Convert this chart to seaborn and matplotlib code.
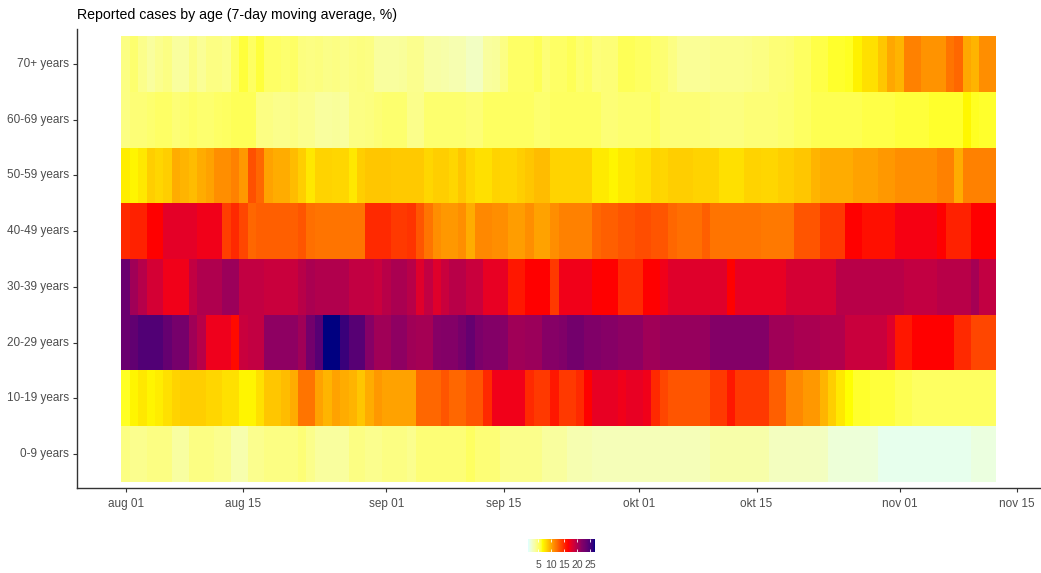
import numpy as np
import pandas as pd
import matplotlib
matplotlib.use("Agg")
import matplotlib.pyplot as plt
from matplotlib.colors import ListedColormap
import seaborn as sns

# ---- data: share of reported cases per age group, 7-day moving average (%) ----
start_date = "2020-08-01"
n_days = 104
age_groups = ["70+ years", "60-69 years", "50-59 years", "40-49 years",
              "30-39 years", "20-29 years", "10-19 years", "0-9 years"]

age_70 = [4.5, 5, 4.3, 3.8, 4.2, 4.5, 3.8, 3.8, 4.5, 4, 4.5, 4.5, 4.3, 5.3, 6, 5.3, 6, 5.2, 5.2, 5,
          5.2, 4.6, 4.5, 4.6, 4.4, 4.5, 4.3, 4.5, 4.6, 4.5, 3.8, 3.8, 3.8,
          3.9, 4.2, 4.2, 3.6, 3.6, 3.5, 3.3, 3.3, 2.8, 2.8, 3.8, 3.9, 4.5, 5.2, 5.2, 5.2, 5.5, 4.8,
          5.2, 5.2, 5.5, 5.0, 5.2, 4.7, 4.8, 4.8, 5.5, 5.5, 5.3, 5.3, 5.0, 4.9, 4.5,
          4.0, 4.0, 4.0, 4.0, 4.2, 4.2, 4.2, 4.2, 4.3, 4.5, 4.5, 4.8, 4.8, 4.9, 5.3, 5.3, 5.8, 5.8,
          6.2, 6.2, 6.3, 7.0, 7.8, 7.8, 8.8, 10, 9.5, 11.5, 11.5, 10.8, 10.8, 10.8, 12, 12.5, 10,
          9.5, 11, 11]
age_60 = [4.5, 4.8, 4.8, 5, 5.2, 5.2, 4.8, 5, 5.2, 5, 5, 5.2, 5.3, 5.5, 5.5, 5.5, 4.5, 4.5, 4.3, 4.3,
          4.5, 4.2, 4.2, 3.8, 3.8, 3.9, 3.8, 4.5, 4.5, 4.6, 4.8, 5, 5,
          5, 4.3, 4.3, 5, 5, 5, 5, 5, 4.8, 4.8, 5.3, 5.3, 5.3, 5.3, 5.3, 5.3, 5, 5,
          5.3, 5.3, 5.3, 5.3, 5.3, 5.3, 4.8, 4.8, 5, 5, 5, 5, 5.3, 4.8, 4.8,
          4.8, 4.8, 4.8, 4.8, 4.6, 4.6, 4.6, 4.6, 4.8, 4.8, 4.8, 4.8, 5.0, 5.0, 5.3, 5.3,
          5.6, 5.6, 5.6, 5.6, 5.6, 5.6, 5.8, 5.8, 5.8, 5.8, 6.0, 6.0, 6.0, 6.0,
          6.2, 6.2, 6.2, 6.2, 6.8, 6.3, 6.2, 6.2]
age_50 = [7.2, 6.9, 7.4, 8.5, 8.2, 8.5, 9.8, 9.5, 9.2, 9.8, 10.2, 11, 11, 11.5, 10.6, 13.4, 12.5, 10.2,
          9.8, 9.8, 9.2, 8.5, 7.4, 8.3, 8.3, 8.2, 8.2, 7.4, 8.5, 8.8, 8.8, 8.8, 8.7,
          8.7, 8.7, 8.7, 8.2, 8.5, 8.5, 8.2, 8.8, 8.2, 7.8, 7.8, 8.3, 8.2, 8.2, 8.5, 8.8, 9.2, 9.2,
          8.3, 8.3, 8.3, 8.3, 8.3, 7.3, 7.3, 6.9, 7.4, 7.4, 7.8, 7.8, 8.3, 8.2, 8.5,
          8.5, 8.5, 8.3, 8.3, 8.3, 7.8, 7.8, 7.8, 8.3, 8.3, 8.2, 8.2, 8.5, 8.5, 8.8, 8.8, 9.5,
          9.8, 9.8, 9.8, 9.8, 10.2, 10.2, 10.2, 10.6, 10.6, 11, 11, 11, 11, 11, 11.5, 11.5,
          9.8, 11.5, 11.5, 11.5, 11.5]
age_40 = [15, 15.3, 15.3, 16.6, 16.6, 17.8, 17.8, 17.8, 17.8, 17.2, 17.2, 17.2, 14.2, 15, 13.8, 12.5,
          12.8, 12.8, 12.8, 12.8, 12.8, 13.2, 12.2, 12, 12, 12, 12, 12, 12, 15, 15, 15, 14.4,
          14.4, 14.6, 13.2, 12, 11, 10.6, 10.6, 11, 9.8, 11.2, 11.2, 11, 11, 10.4, 10.4, 11,
          10.2, 10.2, 11, 11.5, 11.5, 11.5, 11.5, 12.5, 12.8, 12.8, 13.2, 13.2, 13.5, 13.5,
          13.2, 13.2, 12.5,
          12.2, 12.2, 12.2, 12.8, 12, 12, 12, 12, 12, 12, 11.8, 11.8, 11.8, 11.8, 13.2, 13.2,
          13.2, 14.4, 14.4, 14.4, 16.6, 16.6, 16, 16, 16, 16, 17, 17, 17, 17, 17, 16.6,
          15.3, 15.3, 15.3, 16.6, 16.6, 16.6]
age_30 = [23.5, 20.8, 19.8, 18.5, 18.5, 17.2, 17.2, 17.2, 19.3, 20.1, 20.1, 20.1, 21, 21, 19.3, 19.3,
          19.3, 19, 19, 19, 19, 19.7, 20.3, 20, 20, 20, 20, 19.3, 19.3, 19.3, 19, 19.7, 20.3,
          20.3, 19.7, 18, 19.3, 18, 19, 19.7, 19.7, 19, 19, 17.6, 17.6, 17.6, 15.7, 15.7, 16.6,
          16.6, 16.6, 14.4, 17.2, 17.2, 17.2, 17.2, 16.6, 16.6, 16.6, 15, 15, 15, 16.6, 16.6,
          17.2, 18,
          18, 18, 18, 18, 18, 18, 16.6, 17.6, 17.6, 17.6, 17.6, 17.6, 17.6, 18.5, 18.5, 18.5,
          18.5, 18.5, 18.5, 19.7, 19.7, 19.7, 19.7, 19.7, 19.7, 19.7, 19.7, 19.3, 19.3, 19.3,
          19.3, 19.7, 19.7, 19.7, 19.7, 20.5, 19.3, 19.3]
age_20 = [23.5, 24, 24.8, 24.8, 24.8, 23.8, 22.8, 22.8, 20.8, 19.7, 17.3, 17.3, 17.3, 16.2, 19, 19.3,
          19.3, 21.5, 21.5, 21.5, 21.5, 20.8, 23, 24.5, 27, 27, 25.8, 24.5, 24.5, 21.8, 20.8,
          20.8, 21.5,
          21.5, 20.8, 20.5, 20.5, 21.8, 22, 22, 22.8, 23.8, 22.5, 22, 22, 21.8, 20.8, 20.8, 21,
          21, 21.8, 21.8, 22.2, 23, 23, 22.2, 22.2, 21.8, 21.8, 21.5, 21.5, 21.5, 20.8, 20.8,
          21.2, 21.2,
          21.2, 21.2, 21.2, 21.2, 22, 22, 22, 22, 22, 22, 22, 20.8, 20.8, 20.8, 20.3, 20.3,
          20.3, 20, 20, 20, 19, 19, 19, 19, 19, 18, 15.7, 15.7, 16.6, 16.6, 16.6, 16.6, 16.6,
          15, 15, 13.8, 13.8, 13.8]
age_10 = [6.3, 6.9, 7.4, 6.9, 7.2, 7.8, 8.3, 8.5, 8.5, 8.5, 8.2, 8.2, 7.8, 7.8, 6.9, 6.9, 7.8, 8.8,
          8.8, 9.2, 9.8, 12, 12, 10.2, 9.5, 10.2, 9.8, 9.5, 8.8, 9.8, 10.6, 10.2, 10.2,
          10.2, 10.2, 12.5, 12.5, 12.5, 13.2, 12.5, 12.5, 13.2, 13.2, 15, 17.2, 17.2, 17.2, 17.2,
          15, 14.4, 14.4, 15.7, 14.4, 14.4, 15, 16.6, 17.6, 17.6, 17.6, 17.2, 17.6, 17.6, 17.2,
          15, 13.8, 13.2,
          13.2, 13.2, 13.2, 13.2, 14.4, 14.4, 15.7, 14.4, 14.4, 14.4, 14.4, 12.8, 12.8, 11.2,
          11.2, 10.6, 10.6, 9.5, 8.5, 7.4, 6.5, 6.2, 6.2, 6.0, 6.0, 6.0, 5.6, 5.6,
          5.3, 5.3, 5.3, 5.3, 5.3, 5.3, 5.3, 5.3, 5.3, 5.3]
age_0 = [4.5, 4.2, 4.2, 4.5, 4.5, 4.5, 3.7, 3.7, 4.5, 4.5, 4.5, 4.2, 4.2, 3.4, 3.4, 4.2, 4.2, 4.5,
         4.5, 4.5, 4.5, 4.8, 4.3, 3.8, 3.8, 3.8, 3.8, 4.5, 4.5, 4.2, 4.2, 4.5, 4.5,
         4.5, 4.2, 4.8, 4.8, 4.8, 4.8, 4.8, 4.8, 5.3, 4.8, 4.8, 4.8, 4.3, 4.3, 4.3, 4.3, 4.3,
         3.8, 3.8, 3.8, 3.3, 3.3, 3.3, 3.1, 3.1, 3.1, 3.1, 3.1, 3.1, 3.1, 3.1, 3.1, 3.1,
         3.1, 3.1, 3.1, 3.1, 3.5, 3.5, 3.5, 3.5, 3.5, 3.5, 3.5, 2.9, 2.9, 2.9, 2.9, 2.9, 2.9,
         2.9, 2.2, 2.2, 2.2, 2.2, 2.2, 2.2, 1.6, 1.6, 1.6, 1.6, 1.6, 1.6, 1.6, 1.6, 1.6, 1.6,
         1.6, 2.0, 2.0, 2.0]

tick_dates = ["2020-08-01", "2020-08-15", "2020-09-01", "2020-09-15",
              "2020-10-01", "2020-10-15", "2020-11-01", "2020-11-15"]
tick_labels = ["aug 01", "aug 15", "sep 01", "sep 15", "okt 01", "okt 15", "nov 01", "nov 15"]

# colour scale anchors (value, colour) and the space each segment is blended in
scale_values = [1.0, 6.5, 16.6, 21.8, 27.0]
scale_colours = ["#E0FFFF", "#FFFF00", "#FF0000", "#860066", "#000080"]
segment_space = ["lab", "rgb", "lab", "lab"]
vmin, vmax = 1.0, 27.0

dates = pd.date_range(start_date, periods=n_days, freq="D")
df = pd.DataFrame([age_70, age_60, age_50, age_40, age_30, age_20, age_10, age_0],
                  index=age_groups, columns=dates)


# ---- colormap helpers ----
def hex_to_rgb(h):
    h = h.lstrip("#")
    return np.array([int(h[i:i + 2], 16) for i in (0, 2, 4)]) / 255.0


def rgb_to_lab(rgb):
    c = np.where(rgb > 0.04045, ((rgb + 0.055) / 1.055) ** 2.4, rgb / 12.92)
    m = np.array([[0.4124, 0.3576, 0.1805],
                  [0.2126, 0.7152, 0.0722],
                  [0.0193, 0.1192, 0.9505]])
    xyz = m @ c / np.array([0.95047, 1.0, 1.08883])
    f = np.where(xyz > 0.008856, np.cbrt(xyz), 7.787 * xyz + 16 / 116)
    return np.array([116 * f[1] - 16, 500 * (f[0] - f[1]), 200 * (f[1] - f[2])])


def lab_to_rgb(lab):
    fy = (lab[0] + 16) / 116
    fx = fy + lab[1] / 500
    fz = fy - lab[2] / 200
    f = np.array([fx, fy, fz])
    xyz = np.where(f ** 3 > 0.008856, f ** 3, (f - 16 / 116) / 7.787)
    xyz = xyz * np.array([0.95047, 1.0, 1.08883])
    m_inv = np.array([[3.2406, -1.5372, -0.4986],
                      [-0.9689, 1.8758, 0.0415],
                      [0.0557, -0.2040, 1.0570]])
    c = np.clip(m_inv @ xyz, 0, 1)
    rgb = np.where(c > 0.0031308, 1.055 * c ** (1 / 2.4) - 0.055, 12.92 * c)
    return np.clip(rgb, 0, 1)


rgbs = [hex_to_rgb(h) for h in scale_colours]
labs = [rgb_to_lab(c) for c in rgbs]
cols = []
for v in np.linspace(vmin, vmax, 256):
    k = np.searchsorted(scale_values, v, side="right") - 1
    k = min(max(k, 0), len(scale_values) - 2)
    t = (v - scale_values[k]) / (scale_values[k + 1] - scale_values[k])
    if segment_space[k] == "lab":
        cols.append(lab_to_rgb(labs[k] * (1 - t) + labs[k + 1] * t))
    else:
        cols.append(rgbs[k] * (1 - t) + rgbs[k + 1] * t)
cmap = ListedColormap(cols)

# ---- figure ----
W, H = 1041, 573
fig = plt.figure(figsize=(W / 100, H / 100), dpi=100)
plt.rcParams["font.family"] = ["Liberation Sans", "DejaVu Sans"]

ax = fig.add_axes([77 / W, 1 - 488 / H, 963 / W, (488 - 29) / H])
cax = fig.add_axes([528 / W, 1 - 552 / H, 67 / W, 13 / H])

sns.heatmap(df, ax=ax, cmap=cmap, vmin=vmin, vmax=vmax, cbar_ax=cax,
            cbar_kws={"orientation": "horizontal", "ticks": [5, 10, 15, 20, 25]},
            xticklabels=False, yticklabels=age_groups, linewidths=0)

tick_pos = [(pd.Timestamp(d) - dates[0]).days + 0.5 for d in tick_dates]
ax.set_xticks(tick_pos)
ax.set_xticklabels(tick_labels)
ax.set_xlim(-5.28, 109.2)
ax.set_ylim(8.108, -0.126)
ax.set_xlabel("")
ax.set_ylabel("")

for side in ["left", "bottom"]:
    ax.spines[side].set_visible(True)
    ax.spines[side].set_color("#333333")
    ax.spines[side].set_linewidth(1.0)
for side in ["top", "right"]:
    ax.spines[side].set_visible(False)

ax.tick_params(axis="both", which="major", length=3, width=0.8, color="#333333",
               labelcolor="#4D4D4D", labelsize=8.5, pad=3)
ax.tick_params(axis="x", pad=4)
plt.setp(ax.get_yticklabels(), rotation=0)
plt.setp(ax.get_xticklabels(), rotation=0)

fig.text(77 / W, 1 - 15 / H, "Reported cases by age (7-day moving average, %)",
         ha="left", va="center", fontsize=10.2, color="black")

# colour bar styling
cbar = ax.collections[0].colorbar
cbar.outline.set_visible(False)
cax.xaxis.set_ticks_position("both")
cax.tick_params(axis="x", which="major", direction="in", length=2.5, width=0.6,
                color="white", labelcolor="#4D4D4D", labelsize=7.5, pad=6,
                labeltop=False, labelbottom=True)
cax.tick_params(axis="x", which="minor", length=0)

fig.savefig("out.png", dpi=100, facecolor="white")
